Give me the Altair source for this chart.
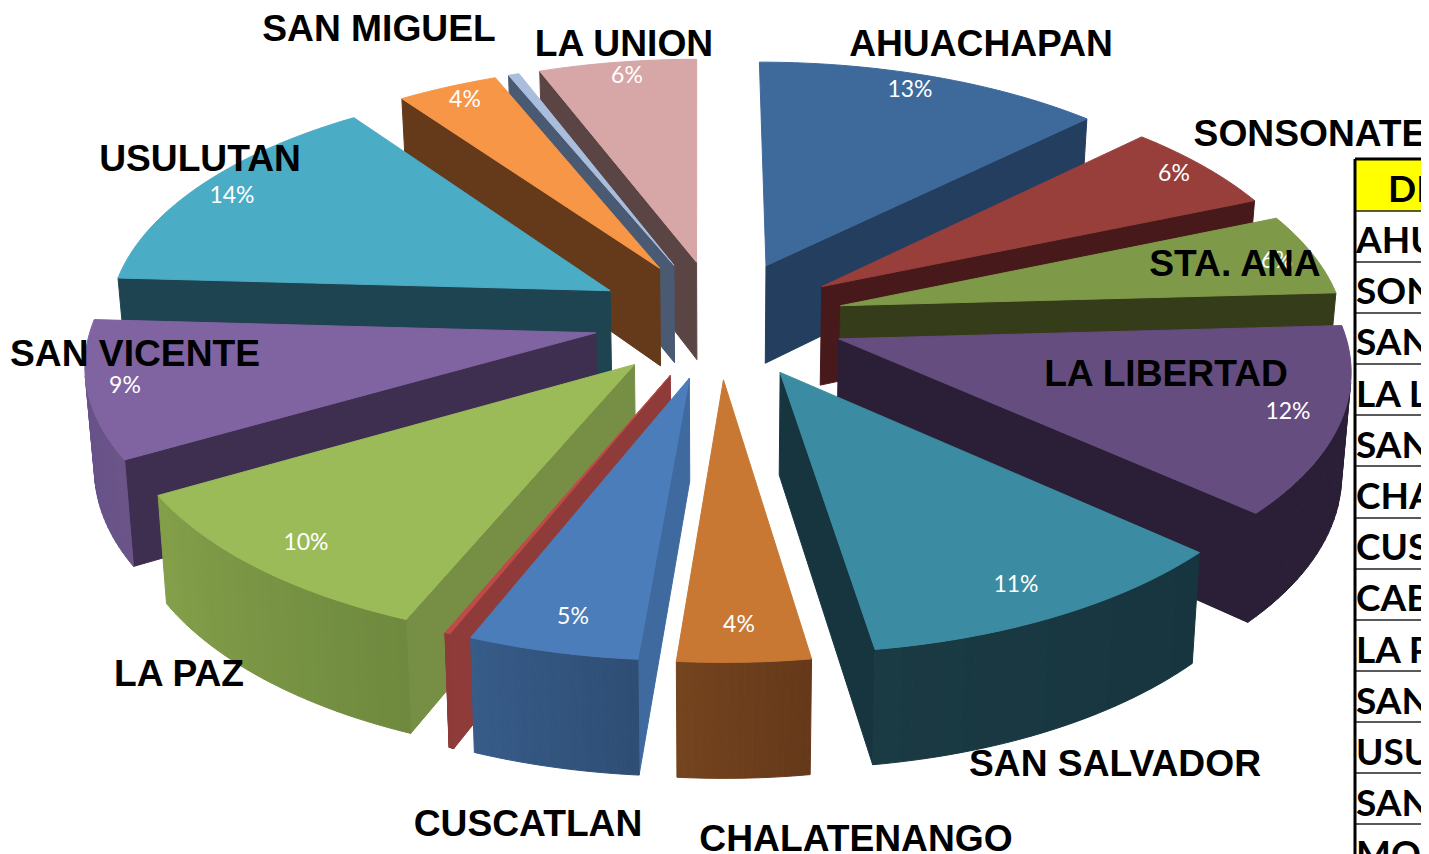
import math
import altair as alt
import pandas as pd

# ---- chart values ----
departments = ["AHUACHAPAN", "SONSONATE", "STA. ANA", "LA LIBERTAD", "SAN SALVADOR", "CHALATENANGO", "CUSCATLAN",
               "CABAÑAS", "LA PAZ", "SAN VICENTE", "USULUTAN", "SAN MIGUEL", "MORAZAN", "LA UNION"]
shares = [12.9, 6.1, 5.6, 12.8, 11.15, 3.78, 4.87, 0.15, 10.65, 9.4, 14.6, 3.75, 0.4, 5.85]
pct_text = ["13%", "6%", "6%", "12%", "11%", "4%", "5%", "", "10%", "9%", "14%", "4%", "", "6%"]
table_rows = ["AHUACHAPAN", "SONSONATE", "SANTA ANA", "LA LIBERTAD", "SAN SALVADOR", "CHALATENANGO", "CUSCATLAN",
              "CABAÑAS", "LA PAZ", "SAN VICENTE", "USULUTAN", "SAN MIGUEL", "MORAZAN"]

# ---- styles ----
top_col = ["#3E6A9B", "#983F3C", "#7E9A48", "#664D7F", "#3B8CA3", "#C87833", "#4C7DBB",
           "#BE4B48", "#9BBB59", "#8064A2", "#4BACC6", "#F79646", "#A9BEDC", "#D7A6A6"]
radial_col = ["#243E5F", "#47191A", "#353C1A", "#2A1F36", "#17353E", "#6E3F1C", "#3E6AA0",
              "#8F3B3A", "#768F45", "#3E2E50", "#1E4451", "#653A1B", "#4A5A73", "#5B4444"]
outer_a = ["#243E5F", "#47191A", "#353C1A", "#2A1F36", "#17353E", "#65391A", "#2E4E75",
           "#8F3B3A", "#6F8A3E", "#6A5488", "#1E4451", "#653A1B", "#4A5A73", "#5B4444"]
outer_b = ["#243E5F", "#47191A", "#353C1A", "#2A1F36", "#1A3A44", "#75441F", "#375C89",
           "#8F3B3A", "#84A04A", "#64508A", "#1E4451", "#653A1B", "#4A5A73", "#5B4444"]

# ---- pseudo-3D pie: shares are turned into wedges by a tilted perspective view ----
CX, CY, R, TILT, DEPTH, PERSP, EXPLODE, SHEAR, CONVERGE = 719, 319, 503, 237, 100, 0.11, 0.25, 2, 0.015
STEPS = 30


def view(px, py, pz):
    s = 1 / (1 + PERSP * py)
    return CX + R * px * s * (1 - CONVERGE * pz) - SHEAR * max(py, 0), CY - TILT * py * s + DEPTH * pz * s


def mix(a, b, t):
    va = [int(a[i:i + 2], 16) for i in (1, 3, 5)]
    vb = [int(b[i:i + 2], 16) for i in (1, 3, 5)]
    return "#" + "".join(f"{round(p + (q - p) * t):02X}" for p, q in zip(va, vb))


total = sum(shares)
wedges = []
acc = 0
for n, v in enumerate(shares):
    a0 = 2 * math.pi * acc / total
    a1 = 2 * math.pi * (acc + v) / total
    acc += v
    mid = (a0 + a1) / 2
    ox, oy = EXPLODE * math.sin(mid), EXPLODE * math.cos(mid)
    arc = [(ox + math.sin(a0 + (a1 - a0) * j / STEPS), oy + math.cos(a0 + (a1 - a0) * j / STEPS))
           for j in range(STEPS + 1)]
    wedges.append((n, (ox, oy), arc, oy + 0.6 * math.cos(mid)))

rows = []
pid = 0


def add(poly, colour):
    global pid
    pid += 1
    closed = poly + poly[:1]
    for i, (x, y) in enumerate(closed):
        rows.append({"id": f"{pid:05d}", "i": i, "x": x, "y": y, "c": colour})


def area(poly):
    return sum(poly[i][0] * poly[(i + 1) % len(poly)][1] - poly[(i + 1) % len(poly)][0] * poly[i][1]
               for i in range(len(poly)))


def side(p, q, colour):
    quad = [view(*p, 0), view(*q, 0), view(*q, 1), view(*p, 1)]
    return quad, colour


for n, apex, arc, _ in sorted(wedges, key=lambda w: -w[3]):
    top = [view(*apex, 0)] + [view(*p, 0) for p in arc]
    sign = area(top)
    radial = [side(apex, arc[0], radial_col[n]), side(arc[-1], apex, radial_col[n])]
    outer = [side(arc[j], arc[j + 1], mix(outer_a[n], outer_b[n], j / STEPS)) for j in range(STEPS)]
    for quad, colour in radial:
        if area(quad) * sign < 0 and abs(area(quad)) > 3000:
            add(quad, colour)
    for quad, colour in outer:
        if area(quad) * sign < 0:
            add(quad, colour)
    add(top, top_col[n])

shapes = pd.DataFrame(rows)

X = alt.X("x:Q", axis=None, scale=alt.Scale(domain=[8, 1421], nice=False, zero=False))
Y = alt.Y("y:Q", axis=None, scale=alt.Scale(domain=[854, 8], nice=False, zero=False))

pie = alt.Chart(shapes).mark_line(strokeWidth=1, clip=True).encode(
    x=X, y=Y, detail="id:N", order="i:Q",
    fill=alt.Fill("c:N", scale=None), stroke=alt.Stroke("c:N", scale=None))

# ---- label anchors ----
name_x = [981, 1310, 1235, 1166, 1115, 856, 528, None, 179, 135, 200, 379, None, 624]
name_y = [43, 133, 263, 373, 763, 838, 823, None, 673, 353, 158, 28, None, 43]
pct_x = [910, 1174, 1277, 1288, 1016, 739, 573, None, 306, 125, 232, 465, None, 627]
pct_y = [89, 173, 260, 411, 584, 624, 616, None, 542, 385, 195, 99, None, 75]

names = pd.DataFrame({"t": departments, "x": name_x, "y": name_y}).dropna()
pcts = pd.DataFrame({"t": pct_text, "x": pct_x, "y": pct_y}).dropna()

pct_layer = alt.Chart(pcts).mark_text(font="Lato", fontSize=23, color="white", dy=1).encode(x=X, y=Y, text="t:N")
name_layer = alt.Chart(names).mark_text(font="Liberation Sans", fontWeight="bold", fontSize=37.2, color="black",
                                         dy=2, clip=True).encode(x=X, y=Y, text="t:N")

# ---- spreadsheet table cut by the window edge ----
TL, TR = 1356, 1421
line_y = [211, 262, 313, 364, 415, 466, 518, 569, 620, 671, 722, 773, 824]
header = pd.DataFrame({"x": [TL], "x2": [TR], "y": [160], "y2": [211]})
head_rect = alt.Chart(header).mark_rect(color="#FFFF00", clip=True).encode(x=X, x2="x2:Q", y=Y, y2="y2:Q")
rules = pd.DataFrame({"x": [TL] * len(line_y), "x2": [TR] * len(line_y), "y": line_y})
row_lines = alt.Chart(rules).mark_rule(color="#222222", strokeWidth=1.6, clip=True).encode(x=X, x2="x2:Q", y=Y)
frame = pd.DataFrame({"x": [TL - 1, TL - 1], "x2": [TL - 1, TR], "y": [159, 159], "y2": [854, 159]})
frame_lines = alt.Chart(frame).mark_rule(color="#000000", strokeWidth=3, clip=True).encode(
    x=X, x2="x2:Q", y=Y, y2="y2:Q")
row_text = pd.DataFrame({"t": table_rows, "x": [TL] * len(table_rows),
                         "y": [241 + 51.2 * i for i in range(len(table_rows))]})
row_layer = alt.Chart(row_text).mark_text(font="Lato", fontWeight="bold", fontSize=37, align="left", color="black",
                                           dy=1, clip=True).encode(x=X, y=Y, text="t:N")
head_text = pd.DataFrame({"t": ["DEPARTAMENTO"], "x": [1388], "y": [190]})
head_layer = alt.Chart(head_text).mark_text(font="Lato", fontWeight="bold", fontSize=37, align="left", color="black",
                                             dy=1, clip=True).encode(x=X, y=Y, text="t:N")

chart = alt.layer(pie, pct_layer, name_layer, head_rect, row_lines, frame_lines, row_layer, head_layer).properties(
    width=1413, height=846, padding=0, autosize=alt.AutoSizeParams(type="none"), background="white",
).configure_view(stroke=None)

chart.save("out.html", embed_options={"renderer": "svg", "actions": False})
